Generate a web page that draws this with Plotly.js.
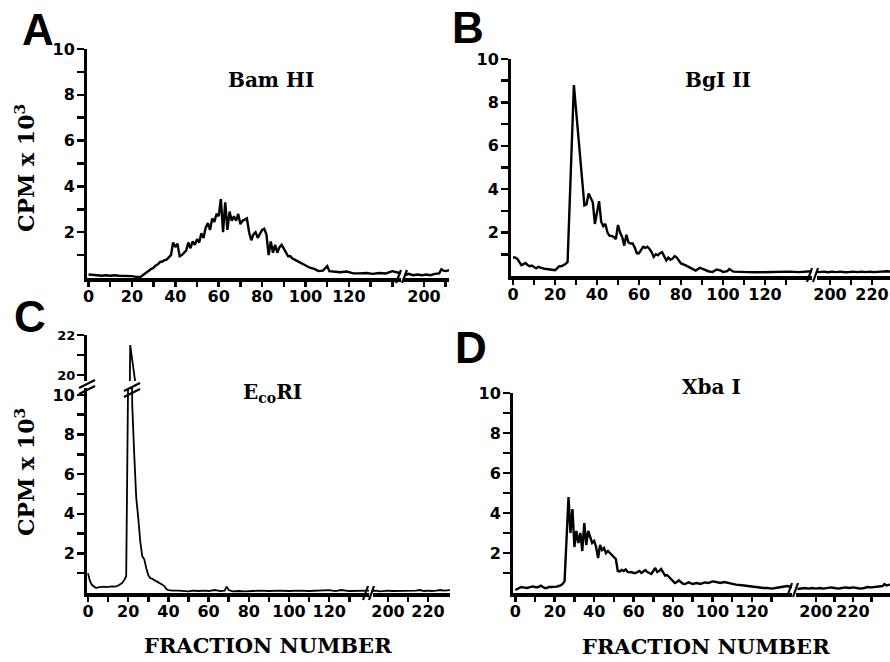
<!DOCTYPE html>
<html><head><meta charset="utf-8">
<script src="https://cdn.plot.ly/plotly-3.0.1.min.js"></script>
<style>html,body{margin:0;padding:0;background:#fff}#chart{width:890px;height:662px}</style>
</head><body><div id="chart"></div>
<script>
// ---------- DATA (fraction number, CPM x 10^3) ----------
// Panel A - Bam HI
const aLeftX = [0,2,4,6,8,10,12,14,16,18,20,22,24,25,26,27,28,29,30,31,32,33,34,35,36,37,38,39,40,41,42,43,44,45,46,47,48,49,50,51,52,53,54,55,56,57,58,59,60,61,62,63,64,65,66,67,68,69,70,71,72,73,74,75,76,77,78,79,80,81,82,83,84,85,86,87,88,89,90,91,92,93,94,95,96,97,98,99,100,102,104,106,108,110,111,113,116,119,122,125,128,131,134,137,140,142,144];
const aLeftY = [0.15,0.12,0.12,0.1,0.12,0.1,0.12,0.1,0.1,0.08,0.08,0.05,0.05,0.12,0.2,0.25,0.35,0.4,0.45,0.55,0.6,0.7,0.72,0.78,0.8,0.9,1.0,1.55,1.35,1.5,0.95,1.0,1.1,1.2,1.55,1.3,1.6,1.45,1.7,1.55,1.95,1.75,2.2,2.4,2.1,2.6,2.45,2.8,2.7,3.45,2.0,3.3,2.1,2.9,2.5,2.7,2.5,2.8,2.35,2.5,2.55,2.6,2.0,1.65,1.9,2.0,1.75,1.95,2.1,2.15,1.9,1.0,1.6,1.1,1.45,1.1,1.35,1.45,1.3,1.15,0.95,0.95,0.85,0.8,0.75,0.7,0.62,0.6,0.55,0.45,0.4,0.3,0.32,0.52,0.3,0.28,0.25,0.28,0.2,0.2,0.22,0.18,0.22,0.2,0.3,0.25,0.2];
const aRightX = [189,191,193,195,197,199,201,203,205,207,208,209,210,212];
const aRightY = [0.15,0.12,0.18,0.12,0.15,0.12,0.15,0.12,0.18,0.2,0.38,0.32,0.3,0.35];

// Panel B - Bgl II
const bLeftX = [0,1,2,3,4,5,6,7,8,9,10,11,12,13,14,15,16,17,18,19,20,21,22,23,24,25,26,29,34,35,36,37,38,39,40,41,42,43,44,45,46,47,48,49,50,51,52,53,54,55,56,57,58,59,60,61,62,63,64,65,66,67,68,69,70,71,72,73,74,75,76,77,78,79,80,82,84,86,87,89,91,93,95,97,99,100,102,103,105,108,112,116,120,124,128,132,136,140,143];
const bLeftY = [0.85,0.85,0.8,0.65,0.5,0.55,0.6,0.5,0.45,0.48,0.42,0.35,0.42,0.38,0.34,0.33,0.32,0.3,0.3,0.28,0.27,0.35,0.45,0.45,0.5,0.55,0.65,8.8,3.25,3.3,3.8,3.6,3.4,2.4,3.0,3.45,2.5,2.3,2.4,2.0,1.85,1.85,1.8,1.7,2.35,2.0,1.8,1.4,1.9,1.55,1.5,1.5,1.3,1.05,1.05,1.2,1.35,1.3,1.35,1.25,1.1,0.88,1.0,0.95,1.05,1.1,0.9,0.72,0.85,0.75,0.8,0.92,0.85,0.7,0.58,0.5,0.4,0.3,0.25,0.38,0.3,0.22,0.18,0.3,0.25,0.18,0.22,0.32,0.2,0.18,0.18,0.17,0.18,0.17,0.18,0.2,0.18,0.2,0.22];
const bRightX = [193,195,197,199,201,203,205,207,209,211,213,215,217,219,221,223,225,227,229];
const bRightY = [0.2,0.18,0.2,0.17,0.2,0.18,0.2,0.17,0.18,0.2,0.18,0.2,0.18,0.2,0.18,0.2,0.2,0.22,0.2];

// Panel C - EcoRI
const cLeftX = [0,1,2,3,4,5,6,7,8,9,10,11,12,13,14,15,16,17,18,19,21,22,23,24,25,26,27,28,29,30,31,32,33,34,35,36,37,38,39,40,42,45,48,50,52,55,58,60,63,66,68,69,70,72,75,78,82,86,90,95,100,105,110,115,120,123,126,130,134,138,140];
const cLeftY = [1.0,0.6,0.4,0.3,0.25,0.28,0.3,0.3,0.32,0.3,0.32,0.32,0.33,0.32,0.33,0.38,0.45,0.5,0.65,0.85,21.5,9.5,7.0,4.8,3.8,2.6,1.85,1.7,1.25,0.9,0.75,0.72,0.65,0.6,0.52,0.5,0.42,0.35,0.2,0.15,0.12,0.12,0.1,0.08,0.12,0.1,0.12,0.1,0.15,0.1,0.12,0.32,0.15,0.08,0.1,0.08,0.1,0.12,0.1,0.12,0.1,0.12,0.1,0.12,0.15,0.1,0.15,0.1,0.12,0.12,0.12];
const cRightX = [192,194,196,198,200,202,204,206,208,210,212,214,216,218,220,222,224,226,228,230,232];
const cRightY = [0.1,0.12,0.08,0.1,0.12,0.1,0.1,0.12,0.1,0.12,0.1,0.12,0.15,0.1,0.12,0.1,0.12,0.15,0.12,0.15,0.15];

// Panel D - Xba I
const dLeftX = [0,1,2,3,4,5,6,7,8,9,10,11,12,13,14,15,16,17,18,19,20,21,22,23,24,25,27,28,29,30,31,32,33,34,35,36,37,38,39,40,41,42,43,44,45,46,47,48,49,50,51,52,53,54,55,56,57,58,59,60,61,62,63,64,65,66,67,68,69,70,71,72,73,74,75,76,77,78,79,80,81,82,83,84,85,86,88,90,92,94,96,98,100,102,104,106,108,110,112,114,116,118,120,122,124,126,128,130,132,134,136,138,140,142];
const dLeftY = [0.15,0.2,0.25,0.3,0.28,0.25,0.25,0.28,0.3,0.33,0.3,0.28,0.32,0.37,0.3,0.25,0.25,0.3,0.3,0.3,0.3,0.32,0.35,0.38,0.45,0.58,4.8,3.0,4.2,2.3,3.1,2.5,3.0,2.1,3.5,2.4,3.1,2.75,2.5,2.6,2.3,1.75,2.4,2.15,2.25,2.0,2.1,2.0,1.9,1.8,1.7,1.1,1.08,1.15,1.1,1.18,1.05,1.03,1.05,1.0,1.0,1.05,1.1,1.0,1.1,1.15,1.05,1.0,0.95,1.1,1.25,1.05,1.1,1.2,1.0,0.87,0.9,0.8,0.7,0.6,0.5,0.55,0.63,0.55,0.47,0.45,0.53,0.45,0.5,0.45,0.53,0.5,0.58,0.55,0.5,0.55,0.5,0.45,0.42,0.4,0.37,0.35,0.32,0.3,0.28,0.25,0.25,0.22,0.25,0.28,0.3,0.35,0.3,0.3];
const dRightX = [190,192,194,196,198,200,202,204,206,208,210,212,214,216,218,220,222,224,226,228,230,232,234,236,237,238,240];
const dRightY = [0.2,0.22,0.25,0.22,0.25,0.22,0.25,0.22,0.25,0.28,0.25,0.22,0.25,0.28,0.25,0.28,0.25,0.22,0.25,0.3,0.28,0.3,0.32,0.35,0.45,0.38,0.42];

// Tick labels
const xLeftTicks = [0,10,20,30,40,50,60,70,80,90,100,110,120,130,140];
const xLeftText  = ['0','','20','','40','','60','','80','','100','','120','',''];
const yTicks = [1,2,3,4,5,6,7,8,9,10];
const yText  = ['','2','','4','','6','','8','','10'];
const yUpperTicks = [20,21,22];
const yUpperText = ['20','','22'];

// ---------- LAYOUT ----------
const W = 890, H = 662;
const hd = (a,b) => [a/W, b/W];
const vd = (top,bottom) => [1-bottom/H, 1-top/H];
const tickFont = {family:'DejaVu Sans', size:16, color:'#000', weight:'bold'};
function xax(domain, range, anchor, vals, text){
  return {domain, range, anchor, showline:true, linewidth:3.5, linecolor:'#000', ticks:'outside',
    ticklen:5, tickwidth:2.5, tickcolor:'#000', tickvals:vals, ticktext:text, showgrid:false,
    zeroline:false, tickfont:tickFont, ticklabelstandoff:-4, fixedrange:true};
}
function yax(domain, range, anchor, vals, text, fs){
  return {domain, range, anchor, showline:true, linewidth:3, linecolor:'#000', ticks:'outside',
    ticklen:7, tickwidth:2.5, tickcolor:'#000', tickvals:vals, ticktext:text, showgrid:false,
    zeroline:false, tickfont:Object.assign({}, tickFont, fs?{size:fs}:{}), ticklabelstandoff:-1, fixedrange:true};
}
const line = {color:'#000', width:2.4};
const lineC = {color:'#000', width:1.8};
function tr(x,y,xa,ya,l){ return {x, y, xaxis:xa, yaxis:ya, type:'scatter', mode:'lines', line:l||line, hoverinfo:'skip', showlegend:false}; }

const data = [
  tr(aLeftX, aLeftY, 'x', 'y'),
  tr(aRightX, aRightY, 'x2', 'y'),
  tr(bLeftX, bLeftY, 'x3', 'y2'),
  tr(bRightX, bRightY, 'x4', 'y2'),
  tr(cLeftX, cLeftY, 'x5', 'y3', lineC),
  tr(cLeftX, cLeftY, 'x5', 'y4', lineC),
  tr(cRightX, cRightY, 'x6', 'y3', lineC),
  tr(dLeftX, dLeftY, 'x7', 'y5'),
  tr(dRightX, dRightY, 'x8', 'y5')
];

const layout = {
  width: W, height: H, margin:{l:0,r:0,t:0,b:0}, paper_bgcolor:'#fff', plot_bgcolor:'rgba(0,0,0,0)',
  showlegend:false,
  xaxis:  xax(hd(87,401), [-0.69,144.0], 'y', xLeftTicks, xLeftText),
  xaxis2: xax(hd(404,449), [190.8,211.5], 'y', [200,210], ['200','']),
  yaxis:  yax(vd(49,278), [0,10], 'x', yTicks, yText),
  xaxis3: xax(hd(511,812), [-0.95,142.4], 'y2', xLeftTicks.slice(0,14), xLeftText.slice(0,14)),
  xaxis4: xax(hd(817,890), [193.8,228.6], 'y2', [200,210,220], ['200','','220']),
  yaxis2: yax(vd(59,276), [0,10], 'x3', yTicks, yText),
  xaxis5: xax(hd(87,369), [-0.5,139.8], 'y3', xLeftTicks.slice(0,14), xLeftText.slice(0,14)),
  xaxis6: xax(hd(373,450), [192.5,231], 'y3', [200,210,220], ['200','','220']),
  yaxis3: yax(vd(388,593), [0,10.35], 'x5', yTicks, yText),
  yaxis4: yax(vd(335,381), [19.7,22], 'x5', yUpperTicks, yUpperText, 13),
  xaxis7: xax(hd(513,792), [-1.17,140.4], 'y5', xLeftTicks.slice(0,14), xLeftText.slice(0,14)),
  xaxis8: xax(hd(796,890), [189.2,240], 'y5', [200,210,220,230], ['200','','220','']),
  yaxis5: yax(vd(393,593), [0,10], 'x7', yTicks, yText),
  shapes: [],
  annotations: []
};

// break marks ("//") in paper coordinates
function slash(x0,y0,x1,y1,w){
  layout.shapes.push({type:'line', xref:'paper', yref:'paper', x0:x0/W, y0:1-y0/H, x1:x1/W, y1:1-y1/H, line:{color:'#000', width:w||2.2}});
}
slash(396,283,401,270); slash(402,283,407,270);
slash(807,282,812,268); slash(813,282,818,268);
slash(363,600,368,586); slash(369,600,374,586);
slash(787,597,792,583); slash(793,597,798,583);
slash(79,388,95,380); slash(79,394,95,386);
slash(124,391,140,383); slash(124,397,140,389);

const serif = {family:'DejaVu Serif', size:20, color:'#000', weight:'bold'};
function ann(text,x,y,font,extra){
  layout.annotations.push(Object.assign({text, x:x/W, y:1-y/H, xref:'paper', yref:'paper', showarrow:false, xanchor:'center', yanchor:'middle', font}, extra||{}));
}
const letterFont = {family:'Liberation Sans', size:44, color:'#000', weight:'bold'};
ann('A', 38, 29, letterFont);
ann('B', 468, 27, letterFont);
ann('C', 30, 316, letterFont);
ann('D', 471, 348, letterFont);
ann('Bam HI', 271, 80, serif);
ann('BgI II', 718, 80, serif);
ann('E<sub>co</sub>RI', 272, 393, serif);
ann('Xba I', 711, 387, serif);
const ySerif = {family:'DejaVu Serif', size:22, color:'#000', weight:'bold'};
ann('CPM x 10<sup>3</sup>', 25, 168, ySerif, {textangle:-90});
ann('CPM x 10<sup>3</sup>', 25, 472, ySerif, {textangle:-90});
const bigSerif = {family:'DejaVu Serif', size:21, color:'#000', weight:'bold'};
ann('FRACTION NUMBER', 268, 645, bigSerif);
ann('FRACTION NUMBER', 706, 646, bigSerif);

Plotly.newPlot('chart', data, layout, {staticPlot:true, displayModeBar:false});
</script>
</body></html>
